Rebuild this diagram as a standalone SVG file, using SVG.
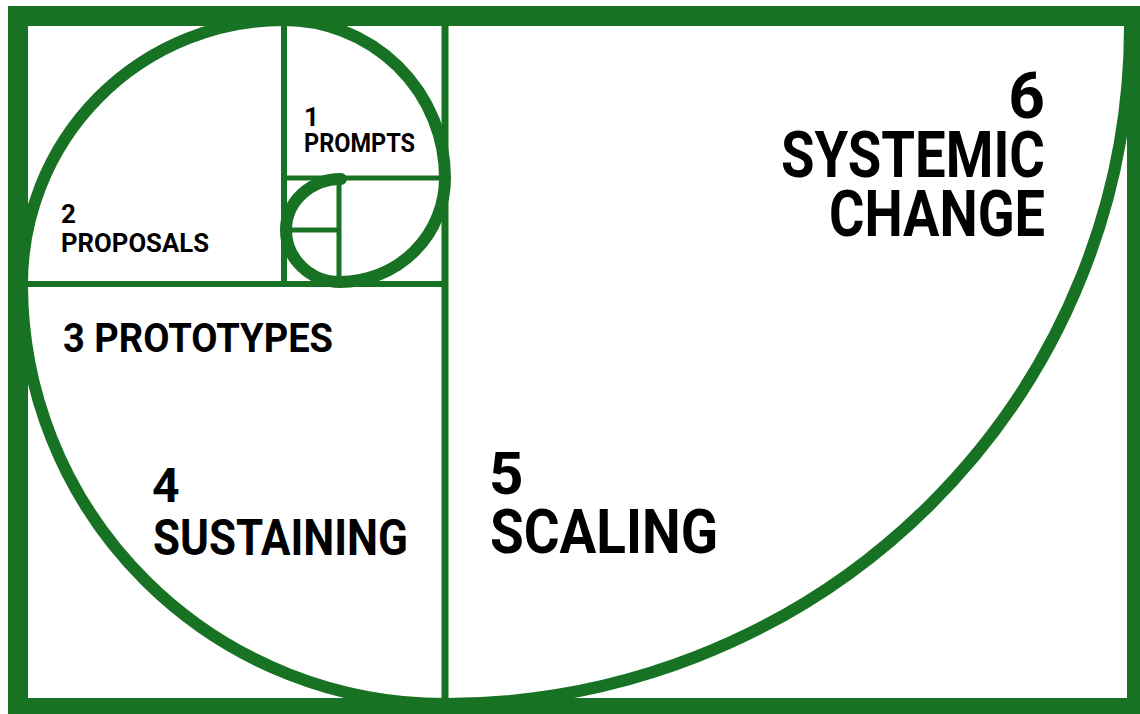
<svg xmlns="http://www.w3.org/2000/svg" width="1140" height="714" viewBox="0 0 1140 714">
  <style>
    .g { stroke: #187223; fill: none; }
    .t { font-family: Roboto, "Liberation Sans", sans-serif; font-weight: 700; fill: #000; }
  </style>
  <rect x="0" y="0" width="1140" height="714" fill="#fff"/>
  <g id="grid" class="g">
    <line x1="445" y1="26" x2="445" y2="698" stroke-width="7"/>
    <line x1="28" y1="284" x2="445" y2="284" stroke-width="6"/>
    <line x1="284" y1="26" x2="284" y2="284" stroke-width="6"/>
    <line x1="284" y1="178" x2="445" y2="178" stroke-width="5"/>
    <line x1="339" y1="178" x2="339" y2="284" stroke-width="5"/>
    <line x1="284" y1="230" x2="339" y2="230" stroke-width="5"/>
  </g>
  <g id="spiral" class="g">
    <path d="M 341,179 A 55,51 0 0 0 286,230 A 54,52 0 0 0 340,282 A 105,104 0 0 0 445,178 A 161,158 0 0 0 284,20 A 262,264 0 0 0 22,284 A 423,420 0 0 0 445,704 A 685,678 0 0 0 1130,26" stroke-width="12" stroke-linecap="round"/>
  </g>
  <g id="frame" class="g">
    <rect x="18" y="16" width="1119" height="692" stroke-width="20"/>
  </g>
  <g id="node-1">
    <text class="t" font-size="26"><tspan x="304" y="126">1</tspan><tspan x="304" y="152" textLength="111" lengthAdjust="spacingAndGlyphs">PROMPTS</tspan></text>
  </g>
  <g id="node-2">
    <text class="t" font-size="26"><tspan x="61" y="223">2</tspan><tspan x="61" y="252" textLength="148" lengthAdjust="spacingAndGlyphs">PROPOSALS</tspan></text>
  </g>
  <g id="node-3">
    <text class="t" x="63" y="352" font-size="40" textLength="270" lengthAdjust="spacingAndGlyphs">3 PROTOTYPES</text>
  </g>
  <g id="node-4">
    <text class="t" font-size="50"><tspan x="152" y="502" font-size="48">4</tspan><tspan x="153" y="555" textLength="255" lengthAdjust="spacingAndGlyphs">SUSTAINING</tspan></text>
  </g>
  <g id="node-5">
    <text class="t" font-size="62"><tspan x="489" y="494" font-size="60">5</tspan><tspan x="490" y="553" textLength="228" lengthAdjust="spacingAndGlyphs">SCALING</tspan></text>
  </g>
  <g id="node-6">
    <text class="t" font-size="65" text-anchor="end"><tspan x="1045" y="118" font-size="64">6</tspan><tspan x="1045" y="177" textLength="264" lengthAdjust="spacingAndGlyphs">SYSTEMIC</tspan><tspan x="1045" y="236" textLength="216" lengthAdjust="spacingAndGlyphs">CHANGE</tspan></text>
  </g>
</svg>
